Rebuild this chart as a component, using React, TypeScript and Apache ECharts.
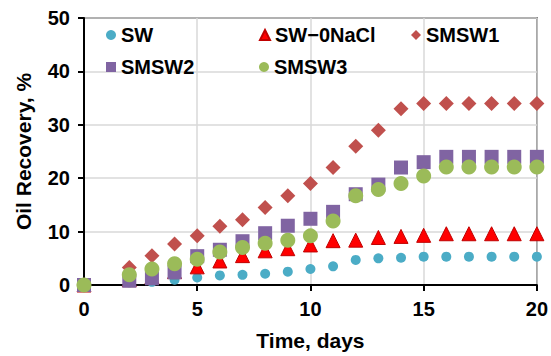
import React, { useEffect, useRef } from "react";
import * as echarts from "echarts";

const days = [0, 2, 3, 4, 5, 6, 7, 8, 9, 10, 11, 12, 13, 14, 15, 16, 17, 18, 19, 20];
const sw = [0, 0.5, 0.6, 1.0, 1.4, 1.8, 1.9, 2.1, 2.5, 3.0, 3.5, 4.7, 5.0, 5.1, 5.3, 5.3, 5.3, 5.3, 5.3, 5.3];
const sw0NaCl = [0, 1.0, 1.5, 2.5, 3.4, 4.5, 5.5, 6.4, 6.8, 7.5, 8.3, 8.4, 8.9, 9.1, 9.3, 9.6, 9.6, 9.6, 9.6, 9.6];
const smsw1 = [0, 3.3, 5.5, 7.7, 9.2, 11.0, 12.2, 14.5, 16.7, 19.0, 22.0, 26.0, 29.0, 33.0, 34.0, 34.0, 34.0, 34.0, 34.0, 34.0];
const smsw2 = [0, 0.8, 1.25, 2.4, 5.4, 6.6, 8.2, 9.7, 11.1, 12.4, 13.7, 17.0, 18.8, 22.0, 23.0, 24.0, 24.0, 24.0, 24.0, 24.0];
const smsw3 = [0, 1.9, 3.0, 4.0, 4.8, 6.2, 7.0, 7.8, 8.4, 9.2, 12.0, 16.7, 17.9, 19.0, 20.4, 22.1, 22.1, 22.1, 22.1, 22.1];

const seriesNames = ["SW", "SW\u22120NaCl", "SMSW1", "SMSW2", "SMSW3"];
const xTicks = [0, 5, 10, 15, 20];
const yTicks = [0, 10, 20, 30, 40, 50];

const FONT = "Liberation Sans, Arial, sans-serif";

export default function App() {
  const ref = useRef<HTMLDivElement>(null);
  useEffect(() => {
    if (!ref.current) return;
    const chart = echarts.init(ref.current, undefined, { renderer: "svg" });
    const pair = (vals: number[]) => days.map((d, i) => [d, vals[i]]);
    const legendBase = (name: string, left: number, top: number) => ({
      data: [name],
      left,
      top,
      padding: 0,
      itemWidth: 10,
      itemHeight: 10,
      itemGap: 5,
      selectedMode: false,
      textStyle: { fontFamily: FONT, fontWeight: "bold", fontSize: 20, color: "#000" },
    });
    chart.setOption({
      animation: false,
      backgroundColor: "#fff",
      grid: {
        left: 84,
        right: 12,
        top: 18,
        bottom: 70,
        show: true,
        borderColor: "#000",
        borderWidth: 1.5,
      },
      legend: [
        legendBase(seriesNames[0], 106, 25),
        legendBase(seriesNames[1], 259, 25),
        legendBase(seriesNames[2], 411, 25),
        legendBase(seriesNames[3], 106, 57),
        legendBase(seriesNames[4], 259, 57),
      ],
      xAxis: {
        type: "value",
        min: xTicks[0],
        max: xTicks[xTicks.length - 1],
        interval: 5,
        name: "Time, days",
        nameLocation: "middle",
        nameGap: 45,
        nameTextStyle: { fontFamily: FONT, fontWeight: "bold", fontSize: 21, color: "#000" },
        axisLine: { onZero: false, lineStyle: { color: "#000", width: 2 } },
        axisTick: { show: true, length: 6, lineStyle: { color: "#000", width: 2 } },
        axisLabel: { fontFamily: FONT, fontWeight: "bold", fontSize: 20, color: "#000", margin: 14 },
        splitLine: { show: true, lineStyle: { color: "#d9d9d9", width: 1.5 } },
      },
      yAxis: {
        type: "value",
        min: yTicks[0],
        max: yTicks[yTicks.length - 1],
        interval: 10,
        name: "Oil Recovery, %",
        nameLocation: "middle",
        nameGap: 50,
        nameRotate: 90,
        nameTextStyle: { fontFamily: FONT, fontWeight: "bold", fontSize: 21, color: "#000" },
        axisLine: { show: true, onZero: false, lineStyle: { color: "#000", width: 2 } },
        axisTick: { show: true, length: 6, lineStyle: { color: "#000", width: 2 } },
        axisLabel: { fontFamily: FONT, fontWeight: "bold", fontSize: 20, color: "#000", margin: 14 },
        splitLine: { show: true, lineStyle: { color: "#d9d9d9", width: 1.5 } },
      },
      series: [
        {
          name: seriesNames[0],
          type: "scatter",
          data: pair(sw),
          symbol: "circle",
          symbolSize: 10,
          itemStyle: { color: "#4BACC6", opacity: 1 },
        },
        {
          name: seriesNames[1],
          type: "scatter",
          data: pair(sw0NaCl),
          symbol: "triangle",
          symbolSize: 14,
          itemStyle: { color: "#FF0000", borderColor: "#C00000", borderWidth: 1, opacity: 1 },
        },
        {
          name: seriesNames[2],
          type: "scatter",
          data: pair(smsw1),
          symbol: "diamond",
          symbolSize: 15,
          itemStyle: { color: "#C0504D", opacity: 1 },
        },
        {
          name: seriesNames[3],
          type: "scatter",
          data: pair(smsw2),
          symbol: "rect",
          symbolSize: 14,
          itemStyle: { color: "#8064A2", opacity: 1 },
        },
        {
          name: seriesNames[4],
          type: "scatter",
          data: pair(smsw3),
          symbol: "circle",
          symbolSize: 15,
          itemStyle: { color: "#9BBB59", opacity: 1 },
        },
      ],
    });
    return () => chart.dispose();
  }, []);
  return <div ref={ref} style={{ width: 551, height: 356, position: "absolute", left: 0, top: 0 }} />;
}
